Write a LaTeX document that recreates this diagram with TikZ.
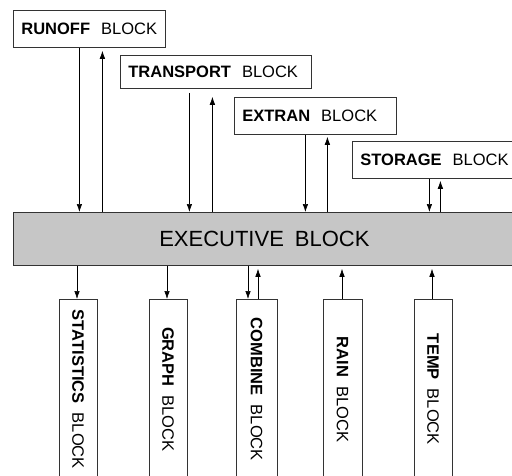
\documentclass[tikz,border=0pt]{standalone}
\usepackage{fontspec}
\setmainfont{Liberation Sans}
\usepackage{graphicx}
\usetikzlibrary{positioning}
\usetikzlibrary{arrows.meta}

\begin{document}
\begin{tikzpicture}[x=1pt,y=-1pt,->,>={Latex[length=8pt,width=5.5pt]},semithick]
  \tikzstyle{every node}=[font=\fontsize{16.5}{19}\selectfont]
  \tikzstyle{module}=[draw=black!80,thick,fill=white,align=left,inner xsep=8pt,inner ysep=0pt,minimum height=37pt,anchor=north west]
  \tikzstyle{sub}=[draw=black!80,thick,fill=white,inner sep=0pt,minimum height=180pt,anchor=north]

  \useasboundingbox (0,0) rectangle (512,475);

  \node[module,text width=136pt]                      (runoff)    at (13,10)  {\textbf{RUNOFF}\ \ BLOCK};
  \node[module,text width=175pt,minimum height=33pt] (transport) at (120,55) {\textbf{TRANSPORT}\ \ BLOCK};
  \node[module,text width=146pt]                      (extran)    at (234,97) {\textbf{EXTRAN}\ \ BLOCK};
  \node[module,text width=160pt]                      (storage)   at (352,141) {\textbf{STORAGE}\ \ BLOCK};

  \node[draw=black!80,thick,fill=gray!45,minimum width=502pt,minimum height=53pt,anchor=north west,
        font=\fontsize{22}{25}\selectfont] (exec) at (13,212) {EXECUTIVE\hspace{11pt}BLOCK};

  \node[sub,minimum width=38pt] (statistics) at (78,299)    {\rotatebox{-90}{\textbf{STATISTICS}\ \ BLOCK}};
  \node[sub,minimum width=38pt] (graph)      at (168,299)   {\rotatebox{-90}{\textbf{GRAPH}\ \ BLOCK}};
  \node[sub,minimum width=41pt] (combine)    at (256.5,299) {\rotatebox{-90}{\textbf{COMBINE}\ \ BLOCK}};
  \node[sub,minimum width=39pt] (rain)       at (342.5,299) {\rotatebox{-90}{\textbf{RAIN}\ \ BLOCK}};
  \node[sub,minimum width=38pt] (temp)       at (433,299)   {\rotatebox{-90}{\textbf{TEMP}\ \ BLOCK}};

  \draw ([xshift=-10pt]runoff.south) -- ([xshift=-10pt]runoff.south |- exec.north);
  \draw[shorten >=3pt] ([xshift=13pt]runoff.south |- exec.north) -- ([xshift=13pt]runoff.south);
  \draw[shorten <=4pt] ([xshift=-26.5pt]transport.south) -- ([xshift=-26.5pt]transport.south |- exec.north);
  \draw[shorten >=8pt] ([xshift=-3.5pt]transport.south |- exec.north) -- ([xshift=-3.5pt]transport.south);
  \draw ([xshift=-10pt]extran.south) -- ([xshift=-10pt]extran.south |- exec.north);
  \draw[shorten >=2pt] ([xshift=12pt]extran.south |- exec.north) -- ([xshift=12pt]extran.south);
  \draw ([xshift=-11pt]storage.south) -- ([xshift=-11pt]storage.south |- exec.north);
  \draw[shorten >=2pt] ([xshift=0pt]storage.south |- exec.north) -- ([xshift=0pt]storage.south);

  \draw ([xshift=-1pt]statistics.north |- exec.south) -- ([xshift=-1pt]statistics.north);
  \draw ([xshift=-1pt]graph.north |- exec.south) -- ([xshift=-1pt]graph.north);
  \draw ([xshift=-8.5pt]combine.north |- exec.south) -- ([xshift=-8.5pt]combine.north);
  \draw[shorten >=3pt] ([xshift=1.5pt]combine.north) -- ([xshift=1.5pt]combine.north |- exec.south);
  \draw[shorten >=3pt] ([xshift=-0.5pt]rain.north) -- ([xshift=-0.5pt]rain.north |- exec.south);
  \draw[shorten >=3pt] ([xshift=-1pt]temp.north) -- ([xshift=-1pt]temp.north |- exec.south);
\end{tikzpicture}
\end{document}
